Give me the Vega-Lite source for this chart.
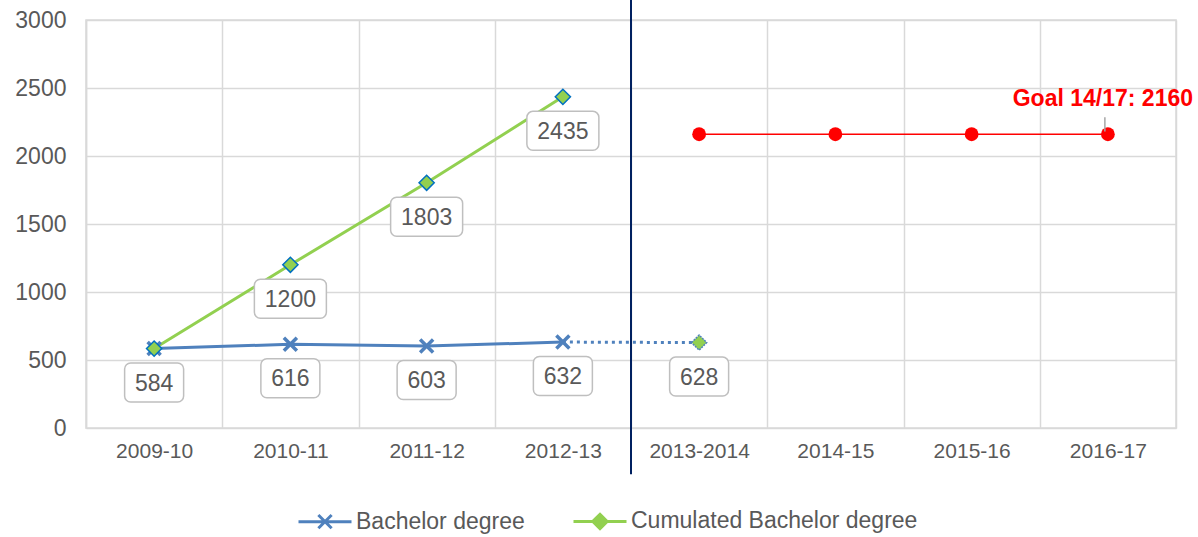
{
  "$schema": "https://vega.github.io/schema/vega-lite/v6.json",
  "width": 1090,
  "height": 408,
  "autosize": {"type": "none"},
  "padding": {"left": 86, "top": 20, "right": 22, "bottom": 109},
  "background": "white",
  "config": {
    "font": "Liberation Sans",
    "view": {"stroke": "#d9d9d9", "strokeWidth": 1.5}
  },
  "datasets": {
    "bach": [
      {"cat": "2009-10", "v": 584, "series": "Bachelor degree"},
      {"cat": "2010-11", "v": 616, "series": "Bachelor degree"},
      {"cat": "2011-12", "v": 603, "series": "Bachelor degree"},
      {"cat": "2012-13", "v": 632, "series": "Bachelor degree"}
    ],
    "dotted": [
      {"cat": "2012-13", "v": 632},
      {"cat": "2013-2014", "v": 628}
    ],
    "proj": [
      {"cat": "2013-2014", "v": 628}
    ],
    "cum": [
      {"cat": "2009-10", "v": 584, "series": "Cumulated Bachelor degree"},
      {"cat": "2010-11", "v": 1200, "series": "Cumulated Bachelor degree"},
      {"cat": "2011-12", "v": 1803, "series": "Cumulated Bachelor degree"},
      {"cat": "2012-13", "v": 2435, "series": "Cumulated Bachelor degree"}
    ],
    "goal": [
      {"cat": "2013-2014", "v": 2160},
      {"cat": "2014-15", "v": 2160},
      {"cat": "2015-16", "v": 2160},
      {"cat": "2016-17", "v": 2160}
    ],
    "lab3": [
      {"cat": "2009-10", "v": 584},
      {"cat": "2010-11", "v": 616},
      {"cat": "2011-12", "v": 603},
      {"cat": "2012-13", "v": 632},
      {"cat": "2013-2014", "v": 628}
    ],
    "lab4": [
      {"cat": "2010-11", "v": 1200},
      {"cat": "2011-12", "v": 1803},
      {"cat": "2012-13", "v": 2435}
    ],
    "goalLabel": [
      {"cat": "2016-17", "v": 2160, "text": "Goal 14/17: 2160"}
    ]
  },
  "encoding": {
    "x": {
      "field": "cat",
      "type": "nominal",
      "title": null,
      "scale": {
        "type": "band",
        "domain": ["2009-10", "2010-11", "2011-12", "2012-13", "2013-2014", "2014-15", "2015-16", "2016-17"],
        "paddingInner": 0,
        "paddingOuter": 0
      },
      "axis": {
        "labelFontSize": 21,
        "labelColor": "#595959",
        "ticks": false,
        "domain": false,
        "grid": true,
        "tickBand": "extent",
        "gridColor": "#d9d9d9",
        "gridWidth": 1.5,
        "labelPadding": 12,
        "labelAngle": 0
      }
    },
    "y": {
      "field": "v",
      "type": "quantitative",
      "title": null,
      "scale": {"domain": [0, 3000], "nice": false},
      "axis": {
        "values": [0, 500, 1000, 1500, 2000, 2500, 3000],
        "format": "d",
        "labelFontSize": 23,
        "labelColor": "#595959",
        "ticks": false,
        "domain": true,
        "domainColor": "#d9d9d9",
        "domainWidth": 1.5,
        "grid": true,
        "gridColor": "#d9d9d9",
        "gridWidth": 1.5,
        "labelPadding": 20
      }
    }
  },
  "layer": [
    {
      "data": {"name": "bach"},
      "mark": {"type": "line", "strokeWidth": 3},
      "encoding": {
        "color": {
          "field": "series",
          "type": "nominal",
          "scale": {
            "domain": ["Bachelor degree", "Cumulated Bachelor degree"],
            "range": ["#4F81BD", "#92D050"]
          },
          "legend": {
            "orient": "none",
            "legendX": 211,
            "legendY": 473,
            "direction": "horizontal",
            "title": null,
            "padding": 0,
            "labelFontSize": 23,
            "labelColor": "#595959",
            "labelFont": "Liberation Sans",
            "labelLimit": 0,
            "symbolSize": 2809,
            "symbolStrokeWidth": 3,
            "labelOffset": 3,
            "columnPadding": 42,
            "encode": {
              "symbols": {
                "update": {
                  "shape": {"signal": "datum.value === 'Bachelor degree' ? 'M-1,0H1M-0.25,-0.25L0.25,0.25M-0.25,0.25L0.25,-0.25' : 'M-1,0H-0.27M0.27,0H1M-0.27,0L0,-0.27L0.27,0L0,0.27Z'"},
                  "fill": {"signal": "datum.value === 'Bachelor degree' ? 'transparent' : '#92D050'"},
                  "stroke": {"signal": "datum.value === 'Bachelor degree' ? '#4F81BD' : '#92D050'"},
                  "strokeWidth": {"value": 3}
                }
              }
            }
          }
        }
      }
    },
    {
      "data": {"name": "dotted"},
      "mark": {"type": "line", "strokeWidth": 3, "color": "#4F81BD", "strokeDash": [3, 4]}
    },
    {
      "data": {"name": "cum"},
      "mark": {"type": "line", "strokeWidth": 3},
      "encoding": {
        "color": {"field": "series", "type": "nominal"}
      }
    },
    {
      "data": {"name": "goal"},
      "mark": {"type": "line", "strokeWidth": 1.5, "color": "#FF0000"}
    },
    {
      "data": {"name": "proj"},
      "mark": {"type": "rule", "color": "#002060", "strokeWidth": 2},
      "encoding": {
        "x": {"datum": "2013-2014", "type": "nominal", "bandPosition": 0},
        "y": {"datum": 3150, "type": "quantitative"},
        "y2": {"datum": -340}
      }
    },
    {
      "data": {"name": "bach"},
      "mark": {"type": "point", "shape": "M-1,-1L1,1M-1,1L1,-1", "filled": false, "stroke": "#4F81BD", "strokeWidth": 3.5, "size": 169, "opacity": 1}
    },
    {
      "data": {"name": "cum"},
      "mark": {"type": "point", "shape": "diamond", "filled": true, "fill": "#92D050", "stroke": "#0070C0", "strokeWidth": 1.5, "size": 230, "opacity": 1}
    },
    {
      "data": {"name": "proj"},
      "mark": {"type": "point", "shape": "diamond", "filled": true, "fill": "#92D050", "stroke": "#4F81BD", "strokeWidth": 1.5, "strokeDash": [2, 1], "size": 230, "opacity": 1}
    },
    {
      "data": {"name": "goal"},
      "mark": {"type": "circle", "color": "#FF0000", "size": 190, "opacity": 1}
    },
    {
      "data": {"name": "lab3"},
      "mark": {"type": "point", "shape": "M-23.5,-19.5H23.5A6,6,0,0,1,29.5,-13.5V13.5A6,6,0,0,1,23.5,19.5H-23.5A6,6,0,0,1,-29.5,13.5V-13.5A6,6,0,0,1,-23.5,-19.5Z", "size": 4, "filled": true, "fill": "white", "stroke": "#bfbfbf", "strokeWidth": 1.5, "opacity": 1, "yOffset": 34}
    },
    {
      "data": {"name": "lab3"},
      "mark": {"type": "text", "fontSize": 23, "color": "#595959", "baseline": "middle", "align": "center", "yOffset": 35},
      "encoding": {"text": {"field": "v", "type": "quantitative", "format": "d"}}
    },
    {
      "data": {"name": "lab4"},
      "mark": {"type": "point", "shape": "M-30,-19.5H30A6,6,0,0,1,36,-13.5V13.5A6,6,0,0,1,30,19.5H-30A6,6,0,0,1,-36,13.5V-13.5A6,6,0,0,1,-30,-19.5Z", "size": 4, "filled": true, "fill": "white", "stroke": "#bfbfbf", "strokeWidth": 1.5, "opacity": 1, "yOffset": 34}
    },
    {
      "data": {"name": "lab4"},
      "mark": {"type": "text", "fontSize": 23, "color": "#595959", "baseline": "middle", "align": "center", "yOffset": 35},
      "encoding": {"text": {"field": "v", "type": "quantitative", "format": "d"}}
    },
    {
      "data": {"name": "goalLabel"},
      "mark": {"type": "rule", "color": "#a6a6a6", "strokeWidth": 1.5, "xOffset": -3},
      "encoding": {
        "y": {"datum": 2180, "type": "quantitative"},
        "y2": {"datum": 2285}
      }
    },
    {
      "data": {"name": "goalLabel"},
      "mark": {"type": "text", "fontSize": 23, "fontWeight": "bold", "color": "#FF0000", "baseline": "middle", "align": "center", "xOffset": -5, "yOffset": -35},
      "encoding": {"text": {"field": "text", "type": "nominal"}}
    }
  ]
}
